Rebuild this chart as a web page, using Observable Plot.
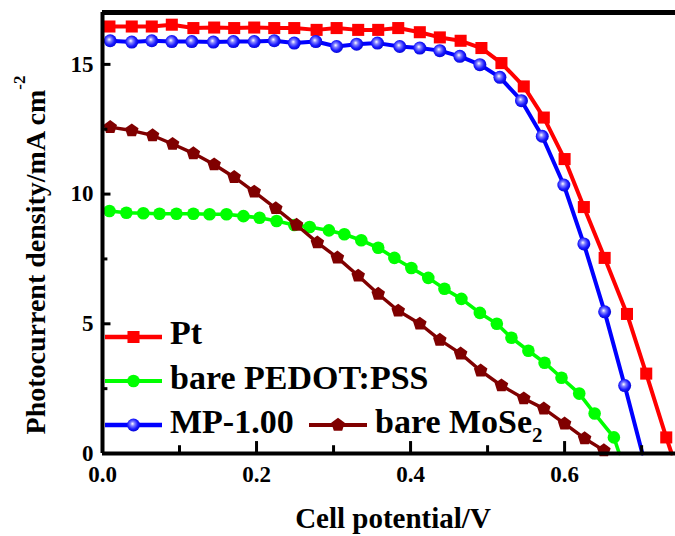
<!DOCTYPE html>
<html>
<head>
<meta charset="utf-8">
<script src="https://cdn.jsdelivr.net/npm/d3@7"></script>
<script src="https://cdn.jsdelivr.net/npm/@observablehq/plot@0.6"></script>
<style>
  html, body { margin: 0; padding: 0; background: #fff; }
  #chart { width: 675px; height: 536px; overflow: hidden; }
</style>
</head>
<body>
<div id="chart"></div>
<script>
// ---- Data ----
const seriesNames = ["Pt", "bare PEDOT:PSS", "MP-1.00", "bare MoSe2"];
const seriesColors = ["#ff0000", "#00ff00", "#0000ff", "#800000"];

const ptV = [0.009,0.038,0.064,0.090,0.118,0.145,0.171,0.197,0.223,0.249,0.278,0.304,0.332,0.358,0.384,0.412,0.438,0.465,0.492,0.518,0.547,0.573,0.600,0.625,0.652,0.681,0.706,0.732];
const ptJ = [16.46,16.46,16.46,16.53,16.40,16.42,16.40,16.42,16.40,16.40,16.33,16.40,16.33,16.33,16.40,16.24,16.04,15.91,15.63,15.05,14.15,12.95,11.35,9.50,7.54,5.38,3.08,0.62];
const ptVoc = 0.739;

const pedotV = [0.009,0.031,0.053,0.074,0.096,0.118,0.139,0.161,0.183,0.204,0.226,0.249,0.269,0.294,0.314,0.336,0.358,0.379,0.401,0.423,0.444,0.466,0.490,0.512,0.531,0.553,0.574,0.596,0.619,0.639,0.664];
const pedotJ = [9.35,9.28,9.26,9.24,9.24,9.24,9.22,9.22,9.15,9.09,8.96,8.81,8.73,8.60,8.45,8.22,7.93,7.54,7.15,6.77,6.35,5.96,5.42,5.00,4.46,3.96,3.50,2.92,2.31,1.54,0.62];
const pedotVoc = 0.671;

const mpV = [0.010,0.038,0.064,0.090,0.116,0.144,0.170,0.197,0.223,0.249,0.277,0.304,0.330,0.357,0.386,0.412,0.438,0.464,0.490,0.516,0.544,0.571,0.599,0.625,0.652,0.678];
const mpJ = [15.91,15.86,15.91,15.88,15.88,15.86,15.88,15.88,15.91,15.82,15.88,15.69,15.78,15.82,15.69,15.63,15.53,15.31,14.99,14.50,13.60,12.23,10.35,8.08,5.46,2.62];
const mpVoc = 0.701;

const moV = [0.010,0.038,0.065,0.091,0.118,0.145,0.171,0.197,0.225,0.252,0.279,0.305,0.332,0.358,0.384,0.412,0.438,0.465,0.491,0.518,0.547,0.573,0.600,0.626,0.651];
const moJ = [12.58,12.45,12.26,11.93,11.57,11.14,10.65,10.09,9.45,8.81,8.13,7.55,6.85,6.15,5.50,5.00,4.38,3.85,3.19,2.62,2.12,1.73,1.15,0.58,0.12];
const moVoc = 0.655;

const xTickLabels = [0.0, 0.2, 0.4, 0.6];
const xMinorTicks = [0.1, 0.3, 0.5, 0.7];
const yTickLabels = [0, 5, 10, 15];
const yMinorTicks = [2.5, 7.5, 12.5];
const xTitle = "Cell potential/V";
const yTitle = "Photocurrent density/mA cm";
const yTitleSup = "-2";

// ---- Symbols ----
const pentagon = {
  draw(ctx, size) {
    const r = Math.sqrt(size / Math.PI) * 1.08;
    for (let i = 0; i < 5; i++) {
      const a = -Math.PI / 2 + i * 2 * Math.PI / 5;
      const x = r * Math.cos(a), y = r * Math.sin(a);
      if (i === 0) ctx.moveTo(x, y); else ctx.lineTo(x, y);
    }
    ctx.closePath();
  }
};

const series = [
  {name: seriesNames[0], v: ptV, j: ptJ, voc: ptVoc, color: seriesColors[0], fill: seriesColors[0], symbol: d3.symbolSquare, r: 6.8, sw: 4},
  {name: seriesNames[1], v: pedotV, j: pedotJ, voc: pedotVoc, color: seriesColors[1], fill: seriesColors[1], symbol: d3.symbolCircle, r: 6.3, sw: 3.6},
  {name: seriesNames[2], v: mpV, j: mpJ, voc: mpVoc, color: seriesColors[2], fill: "url(#ball)", symbol: d3.symbolCircle, r: 6.5, sw: 4},
  {name: seriesNames[3], v: moV, j: moJ, voc: moVoc, color: seriesColors[3], fill: seriesColors[3], symbol: pentagon, r: 6.6, sw: 3.4}
];

const FONT = "'Liberation Serif', 'Times New Roman', serif";

const marks = [];
for (const s of series) {
  const pts = s.v.map((v, i) => ({v, j: s.j[i]}));
  marks.push(Plot.line([...pts, {v: s.voc, j: 0}], {x: "v", y: "j", stroke: s.color, strokeWidth: s.sw, strokeLinejoin: "round"}));
  marks.push(Plot.dot(pts, {x: "v", y: "j", symbol: s.symbol, r: s.r, fill: s.fill, stroke: "none"}));
}

const plot = Plot.plot({
  width: 675,
  height: 536,
  marginLeft: 102,
  marginRight: 0,
  marginTop: 12,
  marginBottom: 83,
  style: {fontFamily: FONT, fontWeight: "bold", color: "#000", background: "#fff", overflow: "visible"},
  x: {domain: [0, 0.744]},
  y: {domain: [0, 17]},
  marks: [
    ...marks,
    // frame lines
    Plot.ruleY([17], {stroke: "#000", strokeWidth: 5}),
    Plot.ruleX([0], {stroke: "#000", strokeWidth: 4}),
    Plot.ruleY([0], {stroke: "#000", strokeWidth: 4}),
    // inward ticks
    Plot.ruleX(xTickLabels.filter(d => d > 0), {y1: 0, y2: 0.46, stroke: "#000", strokeWidth: 3}),
    Plot.ruleX(xMinorTicks, {y1: 0, y2: 0.30, stroke: "#000", strokeWidth: 3}),
    Plot.ruleY(yTickLabels.filter(d => d > 0), {x1: 0, x2: 0.011, stroke: "#000", strokeWidth: 3}),
    Plot.ruleY(yMinorTicks, {x1: 0, x2: 0.007, stroke: "#000", strokeWidth: 3}),
    // tick labels
    Plot.axisX({ticks: xTickLabels, tickFormat: d => d.toFixed(1), tickSize: 0, tickPadding: 12, fontSize: 23, fontWeight: "bold", label: null}),
    Plot.axisY({ticks: yTickLabels, tickFormat: d => String(d), tickSize: 0, tickPadding: 9, fontSize: 23, fontWeight: "bold", label: null})
  ]
});

document.getElementById("chart").appendChild(plot);

// ---- defs, titles, legend ----
const svg = d3.select(plot);
const defs = svg.insert("defs", ":first-child");
const g = defs.append("radialGradient").attr("id", "ball").attr("cx", "45%").attr("cy", "45%").attr("r", "60%").attr("fx", "42%").attr("fy", "40%");
g.append("stop").attr("offset", "0%").attr("stop-color", "#ffffff");
g.append("stop").attr("offset", "28%").attr("stop-color", "#8080ff");
g.append("stop").attr("offset", "65%").attr("stop-color", "#1a1aff");
g.append("stop").attr("offset", "100%").attr("stop-color", "#0000cc");

// X title
svg.append("text")
  .attr("x", 393).attr("y", 528)
  .attr("text-anchor", "middle")
  .attr("font-family", FONT).attr("font-weight", "bold").attr("font-size", 29)
  .attr("fill", "#000")
  .text(xTitle);

// Y title
const yt = svg.append("text")
  .attr("transform", "translate(45,255) rotate(-90)")
  .attr("text-anchor", "middle")
  .attr("font-family", FONT).attr("font-weight", "bold").attr("font-size", 28)
  .attr("fill", "#000");
yt.append("tspan").text(yTitle);
yt.append("tspan").attr("font-size", 17).attr("dy", -20).text(yTitleSup);

// Legend
const legendRows = [
  {s: series[0], x0: 105, x1: 162, y: 337, tx: 170, ty: 344},
  {s: series[1], x0: 105, x1: 162, y: 381, tx: 170, ty: 389},
  {s: series[2], x0: 105, x1: 162, y: 425, tx: 170, ty: 433},
  {s: series[3], x0: 309, x1: 367, y: 425, tx: 375, ty: 433}
];
const lg = svg.append("g").attr("text-anchor", "start");
for (const row of legendRows) {
  const s = row.s;
  lg.append("line").attr("x1", row.x0).attr("x2", row.x1).attr("y1", row.y).attr("y2", row.y)
    .attr("stroke", s.color).attr("stroke-width", s.sw + 0.5);
  lg.append("path")
    .attr("d", d3.symbol().type(s.symbol).size(Math.PI * s.r * s.r)())
    .attr("transform", `translate(${(row.x0 + row.x1) / 2},${row.y})`)
    .attr("fill", s.fill);
  const t = lg.append("text").attr("x", row.tx).attr("y", row.ty)
    .attr("text-anchor", "start")
    .attr("font-family", FONT).attr("font-weight", "bold").attr("font-size", 34).attr("fill", "#000");
  if (s.name.endsWith("2") && s.name.includes("MoSe")) {
    t.append("tspan").text(s.name.slice(0, -1));
    t.append("tspan").attr("font-size", 21).attr("dy", 9).text("2");
  } else {
    t.text(s.name);
  }
}
</script>
</body>
</html>
